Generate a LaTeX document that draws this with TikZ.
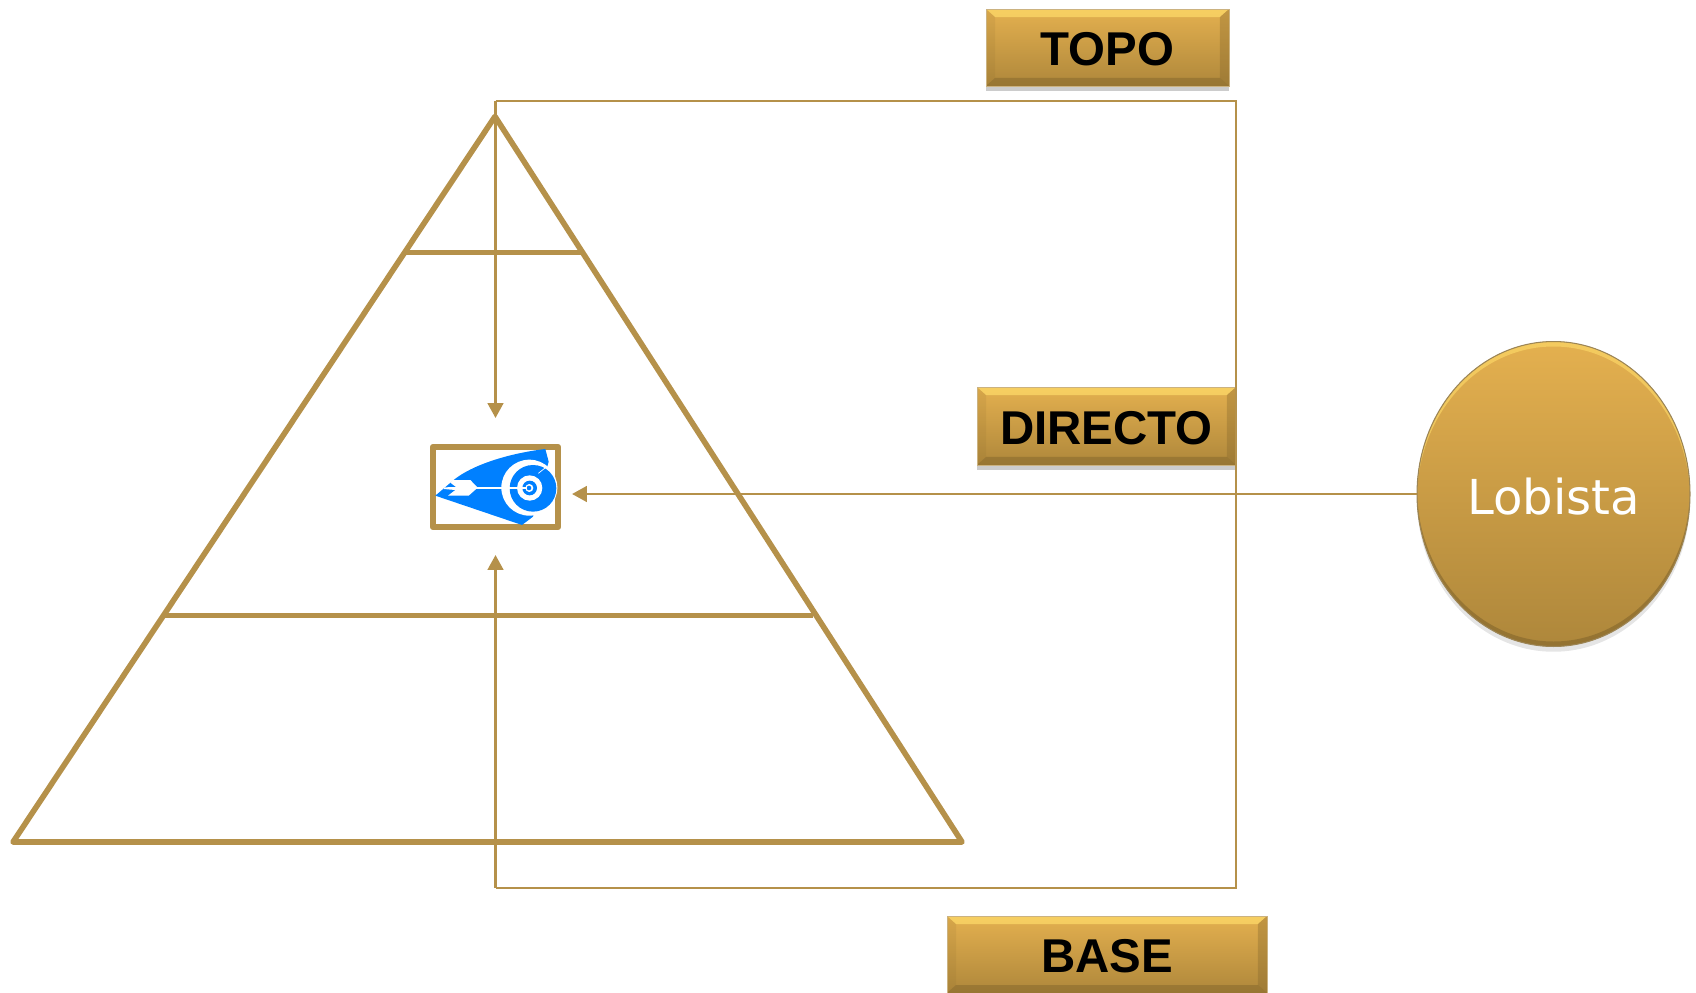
\documentclass[tikz,border=0pt]{standalone}
\usepackage{fontspec}
\setmainfont{Liberation Sans}
\newfontfamily\lobfont{DejaVu Sans}
\usetikzlibrary{arrows.meta,shapes.geometric,shadows}
\definecolor{gold}{HTML}{B5914A}
\definecolor{goldtop}{HTML}{E4B04F}
\definecolor{goldlow}{HTML}{AE873B}
\definecolor{goldlight}{HTML}{FFDC6A}
\definecolor{golddark}{HTML}{83662C}
\definecolor{iconblue}{HTML}{0080FF}
\begin{document}
\begin{tikzpicture}[x=0.02cm,y=-0.02cm,
	pyramid/.style={draw=gold,line width=3.2pt,line join=round},
	link/.style={draw=gold,line width=1.3pt},
	tip/.style={-{Triangle[length=8.5pt,width=9pt]}},
	rankbox/.style={rectangle,inner sep=0pt,draw=gold!70,line width=0.5pt,
		top color=goldtop,bottom color=goldlow,
		font=\fontsize{27}{30}\selectfont\bfseries,text=black,
		text height=0.84cm,text depth=0.12cm,
		general shadow={fill=black,opacity=.2,shadow yshift=-3pt},
		path picture={
			\coordinate (nw) at (path picture bounding box.north west);
			\coordinate (ne) at (path picture bounding box.north east);
			\coordinate (sw) at (path picture bounding box.south west);
			\coordinate (se) at (path picture bounding box.south east);
			\fill[goldlight,opacity=.7] (nw) -- (ne) -- ([shift={(-9,8)}]ne) -- ([shift={(9,8)}]nw) -- cycle;
			\fill[golddark,opacity=.5] (sw) -- (se) -- ([shift={(-9,-8)}]se) -- ([shift={(9,-8)}]sw) -- cycle;
			\fill[golddark,opacity=.35] (ne) -- (se) -- ([shift={(-9,-8)}]se) -- ([shift={(-9,8)}]ne) -- cycle;
			\fill[golddark,opacity=.12] (nw) -- (sw) -- ([shift={(9,-8)}]sw) -- ([shift={(9,8)}]nw) -- cycle;
		}},
	lobbulb/.style={ellipse,inner sep=0pt,draw=golddark!80,line width=0.6pt,
		minimum width=5.46cm,minimum height=6.1cm,
		top color=goldtop,bottom color=goldlow,text=white,
		font=\lobfont\fontsize{27.4}{30}\selectfont,
		text height=0.92cm,text depth=0.12cm,
		general shadow={fill=black,opacity=.1,shadow yshift=-3pt},
		path picture={
			\fill[goldlight,opacity=.6,even odd rule] (path picture bounding box.center) ellipse (136.5 and 152.5)
				([yshift=-.1cm]path picture bounding box.center) ellipse (136.5 and 152.5);
			\fill[golddark,opacity=.6,even odd rule] (path picture bounding box.center) ellipse (136.5 and 152.5)
				([yshift=.1cm]path picture bounding box.center) ellipse (136.5 and 152.5);
		}}]
	\useasboundingbox (0,0) rectangle (1696,993);

	% pyramid
	\coordinate (apex) at (495,116.5);
	\coordinate (base left) at (13,842);
	\coordinate (base right) at (962,842);
	\draw [pyramid] (base left) -- (apex) -- (base right) -- cycle;
	\draw [pyramid] (406,252.5) to (583,252.5);
	\draw [pyramid] (164,615.5) to (813,615.5);

	% target
	\node [draw=gold,line width=3.2pt,line join=round,minimum width=2.51cm,minimum height=1.61cm,inner sep=0pt] (target) at (495.5,487) {};
	\begin{scope}[shift={(432,445)},x=0.02cm/3,y=-0.02cm/3]
		\fill [iconblue] (10,152) -- (270,240) -- (303,215) -- (350,50) -- (340,12)
			.. controls (230,25) and (120,60) .. (65,105) -- cycle;
		\fill [white] (292,128) circle [radius=84];
		\fill [iconblue] (303,130) circle [radius=70];
		\fill [white] (293,129) circle [radius=38];
		\fill [iconblue] (293,129) circle [radius=22];
		\fill [white] (292,129) circle [radius=12];
		\fill [iconblue] (291,129) circle [radius=7];
		\fill [white] (62,105) -- (115,105) -- (137,128) -- (110,152) -- (48,152) -- (70,135)
			-- (35,132) -- (38,127) -- (72,126) -- (55,113) -- cycle;
		\draw [white,line width=1.2pt] (130,129) -- (284,129);
		\draw [white,line width=0.4pt] (319,85) -- (344,65);
	\end{scope}

	% labels
	\node [rankbox,minimum width=4.86cm,minimum height=1.54cm] (topo) at (1107.5,47.5) {TOPO};
	\node [rankbox,minimum width=5.18cm,minimum height=1.56cm] (directo) at (1106.5,426) {DIRECTO};
	\node [rankbox,minimum width=6.40cm,minimum height=1.54cm] (base) at (1107,954.5) {BASE};
	\node [lobbulb] (lobista) at (1553.5,494) {Lobista};

	% connectors
	\coordinate (corner top) at (1236,101);
	\coordinate (corner low) at (1236,888);
	\draw [link,tip,shorten >=0.52cm] (target.north |- corner top) -- (target.north);
	\draw [link,line join=miter] (target.north |- corner top) -- (corner top) -- (corner low) -- (target.south |- corner low);
	\draw [link,tip,shorten >=0.5cm] (target.south |- corner low) -- (target.south);
	\draw [link,tip,shorten >=0.22cm] (lobista.west) -- (lobista.west -| target.east);
\end{tikzpicture}
\end{document}
